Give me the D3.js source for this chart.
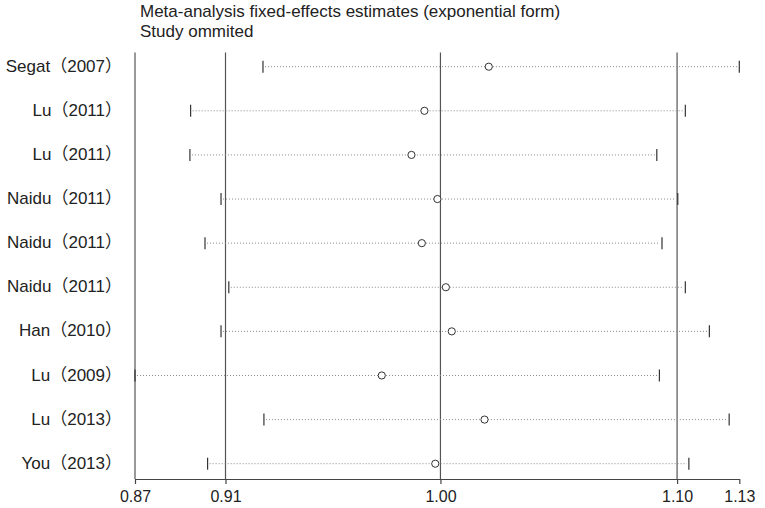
<!DOCTYPE html>
<html><head><meta charset="utf-8">
<script src="https://cdn.jsdelivr.net/npm/d3@7/dist/d3.min.js"></script>
<style>body{margin:0;background:#fff}svg{display:block}text{font-family:"Liberation Sans",Arial,"Noto Sans CJK SC",sans-serif}</style>
</head><body>
<script>
const studies = ["Segat（2007）","Lu（2011）","Lu（2011）","Naidu（2011）","Naidu（2011）","Naidu（2011）","Han（2010）","Lu（2009）","Lu（2013）","You（2013）"];
const estimates = [1.0205,0.9932,0.9877,0.9987,0.9921,1.0023,1.0048,0.9751,1.0187,0.9978];
const lowerCI   = [0.9247,0.8940,0.8937,0.9069,0.9001,0.9102,0.9069,0.8704,0.9251,0.9012];
const upperCI   = [1.1268,1.1039,1.0918,1.1007,1.0940,1.1039,1.1141,1.0929,1.1225,1.1054];
const tickValues = [0.8704,0.9088,1.0000,1.1004,1.1268];
const tickLabels = ["0.87","0.91","1.00","1.10","1.13"];
const refLines = [0.8704,0.9088,1.0000,1.1004];
const titleLines = ["Meta-analysis fixed-effects estimates (exponential form)","Study ommited"];

const W=765,H=508;
const svg=d3.select("body").append("svg").attr("width",W).attr("height",H);
const x=d3.scaleLinear().domain([tickValues[0],tickValues[tickValues.length-1]]).range([135,739.3]);
const y=d3.scaleLinear().domain([0,studies.length-1]).range([66.7,463.7]);
const plotTop=52.5, axisY=479;

// reference lines
svg.selectAll("line.ref").data(refLines).join("line")
  .attr("x1",d=>x(d)).attr("x2",d=>x(d)).attr("y1",plotTop).attr("y2",axisY)
  .attr("stroke","#555").attr("stroke-width",1.2);

// dotted CI lines
svg.selectAll("line.ci").data(studies).join("line")
  .attr("x1",(d,i)=>x(lowerCI[i])+2).attr("x2",(d,i)=>x(upperCI[i])-2)
  .attr("y1",(d,i)=>y(i)).attr("y2",(d,i)=>y(i))
  .attr("stroke","#8a8a8a").attr("stroke-width",1).attr("stroke-dasharray","1,2");

// caps
const caps=[];
studies.forEach((s,i)=>{caps.push([lowerCI[i],i]);caps.push([upperCI[i],i]);});
svg.selectAll("line.cap").data(caps).join("line")
  .attr("x1",d=>x(d[0])).attr("x2",d=>x(d[0]))
  .attr("y1",d=>y(d[1])-6).attr("y2",d=>y(d[1])+6)
  .attr("stroke","#333").attr("stroke-width",1.2);

// estimates
svg.selectAll("circle.est").data(estimates).join("circle")
  .attr("cx",d=>x(d)).attr("cy",(d,i)=>y(i)).attr("r",3.6)
  .attr("fill","#fff").attr("stroke","#333").attr("stroke-width",1);

// study labels
svg.selectAll("text.lab").data(studies).join("text")
  .attr("x",122).attr("y",(d,i)=>y(i)).attr("dy","0.3em")
  .attr("text-anchor","end").attr("font-size",17).attr("fill","#222").text(d=>d);

// x axis
const axis=d3.axisBottom(x).tickValues(tickValues).tickFormat((d,i)=>tickLabels[i]).tickSize(5).tickSizeOuter(0);
const g=svg.append("g").attr("transform",`translate(0,${axisY})`).call(axis);
g.select(".domain").attr("stroke","#444").attr("stroke-width",1.2);
g.selectAll(".tick line").attr("stroke","#444").attr("stroke-width",1.2);
g.selectAll(".tick text").attr("font-size",16).attr("fill","#222").attr("font-family","'Liberation Sans',Arial,sans-serif").attr("y",23).attr("dy",0);

// title
svg.selectAll("text.title").data(titleLines).join("text")
  .attr("x",140).attr("y",(d,i)=>17+i*20).attr("font-size",17).attr("fill","#222").text(d=>d);
</script>
</body></html>
